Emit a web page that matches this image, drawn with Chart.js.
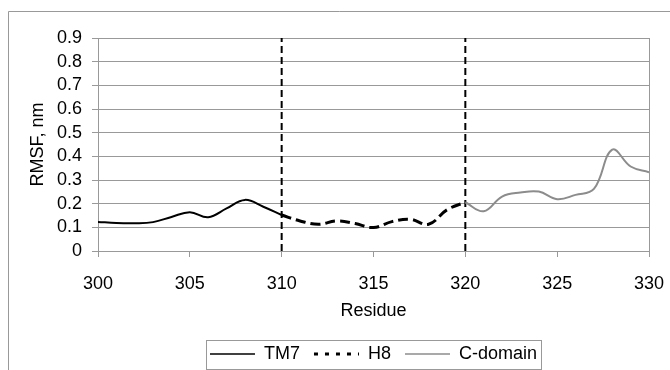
<!DOCTYPE html>
<html><head><meta charset="utf-8">
<script src="https://cdn.jsdelivr.net/npm/chart.js@4"></script>
<style>html,body{margin:0;padding:0;background:#fff}#wrap{width:670px;height:370px}</style>
</head><body><div id="wrap"><canvas id="c" width="670" height="370"></canvas></div>
<script>
const tm7Residues = [300,301,302,303,304,305,306,307,308,309,310];
const tm7Values   = [0.123,0.118,0.117,0.122,0.144,0.164,0.143,0.180,0.216,0.187,0.152];
const h8Residues  = [310,311,312,313,314,315,316,317,318,319,320];
const h8Values    = [0.152,0.127,0.113,0.127,0.116,0.099,0.124,0.134,0.113,0.174,0.206];
const cdomResidues = [320,321,322,323,324,325,326,327,328,329,330];
const cdomValues   = [0.206,0.168,0.230,0.247,0.251,0.219,0.237,0.262,0.428,0.357,0.333];
const boundaryResidues = [310,320];
const seriesNames = ['TM7','H8','C-domain'];
const yMin = 0, yMax = 0.9, yStep = 0.1;
const xMin = 300, xMax = 330, xStep = 5;

const toPts = (xs, ys) => xs.map((x, i) => ({x: x, y: ys[i]}));
const FONT = 'Liberation Sans, Arial, sans-serif';
const GRID = '#999999';

const datasets = [
  {label: seriesNames[0], data: toPts(tm7Residues, tm7Values), borderColor: '#000', borderWidth: 2, tension: 0.4},
  {label: seriesNames[1], data: toPts(h8Residues, h8Values), borderColor: '#000', borderWidth: 3, borderDash: [10,5], tension: 0.4},
  {label: seriesNames[2], data: toPts(cdomResidues, cdomValues), borderColor: '#8c8c8c', borderWidth: 2, tension: 0.4}
];
boundaryResidues.forEach(r => datasets.push({
  label: 'boundary ' + r, data: [{x: r, y: yMin}, {x: r, y: yMax}],
  borderColor: '#000', borderWidth: 2, borderDash: [7,4], tension: 0
}));
datasets.forEach(d => { d.pointRadius = 0; d.fill = false; d.backgroundColor = d.borderColor; });

const framePlugin = {
  id: 'frame',
  beforeDraw(chart) {
    const ctx = chart.ctx;
    ctx.save();
    ctx.fillStyle = '#fff';
    ctx.fillRect(0, 0, chart.width, chart.height);
    ctx.strokeStyle = '#999';
    ctx.lineWidth = 1;
    ctx.beginPath();
    ctx.moveTo(8.5, chart.height);
    ctx.lineTo(8.5, 11.5);
    ctx.lineTo(chart.width, 11.5);
    ctx.stroke();
    ctx.restore();
  },
  afterDraw(chart) {
    const ctx = chart.ctx, a = chart.chartArea;
    ctx.save();
    ctx.strokeStyle = GRID;
    ctx.lineWidth = 1;
    ctx.beginPath();
    const rx = Math.round(a.right) + 0.5;
    ctx.moveTo(rx, a.top);
    ctx.lineTo(rx, a.bottom);
    ctx.stroke();
    const hb = chart.legend && chart.legend.legendHitBoxes;
    if (hb && hb.length) {
      let l = Infinity, r = -Infinity;
      hb.forEach(b => { l = Math.min(l, b.left); r = Math.max(r, b.left + b.width); });
      const cy = hb[0].top + hb[0].height / 2;
      ctx.strokeStyle = '#999';
      ctx.strokeRect(Math.round(l - 4) + 0.5, Math.round(cy - 14.5) + 0.5, Math.round(r - l + 8), 29);
    }
    ctx.restore();
  }
};

new Chart(document.getElementById('c'), {
  type: 'line',
  data: {datasets: datasets},
  plugins: [framePlugin],
  options: {
    responsive: false,
    devicePixelRatio: 1,
    animation: false,
    layout: {padding: {left: 9, top: 38, right: 21, bottom: 2}},
    plugins: {
      tooltip: {enabled: false},
      legend: {
        position: 'bottom',
        fullSize: false,
        maxHeight: 37,
        labels: {
          filter: item => item.datasetIndex < seriesNames.length,
          generateLabels: chart => Chart.defaults.plugins.legend.labels.generateLabels(chart).map(it => {
            const ds = chart.data.datasets[it.datasetIndex];
            it.lineDash = ds.borderDash ? [4, 7] : [];
            it.lineWidth = ds.borderDash ? 3 : 1.5;
            it.strokeStyle = ds.borderColor;
            it.pointStyle = 'line';
            return it;
          }),
          usePointStyle: true,
          pointStyle: 'line',
          pointStyleWidth: 45,
          padding: 14,
          color: '#000',
          font: {family: FONT, size: 18}
        }
      }
    },
    scales: {
      x: {
        type: 'linear', min: xMin, max: xMax,
        ticks: {stepSize: xStep, autoSkip: false, color: '#000', padding: 16, font: {family: FONT, size: 18}, maxRotation: 0},
        grid: {drawOnChartArea: false, drawTicks: true, tickLength: 6, color: GRID},
        border: {display: true, color: GRID},
        title: {display: true, text: 'Residue', color: '#000', font: {family: FONT, size: 18}, padding: {top: 0, bottom: 9}},
        afterFit: s => { s.height = 80; s.paddingLeft = 0; s.paddingRight = 0; }
      },
      y: {
        type: 'linear', min: yMin, max: yMax,
        ticks: {stepSize: yStep, autoSkip: false, color: '#000', padding: 10, font: {family: FONT, size: 18},
          callback: v => String(Number(v.toFixed(1)))},
        grid: {drawTicks: true, tickLength: 6, color: GRID},
        border: {display: true, color: GRID},
        title: {display: true, text: 'RMSF, nm', color: '#000', font: {family: FONT, size: 18}, padding: {top: 18, bottom: 0}},
        afterFit: s => { s.width = 89; s.paddingTop = 0; s.paddingBottom = 0; }
      }
    }
  }
});
</script>
</body></html>
